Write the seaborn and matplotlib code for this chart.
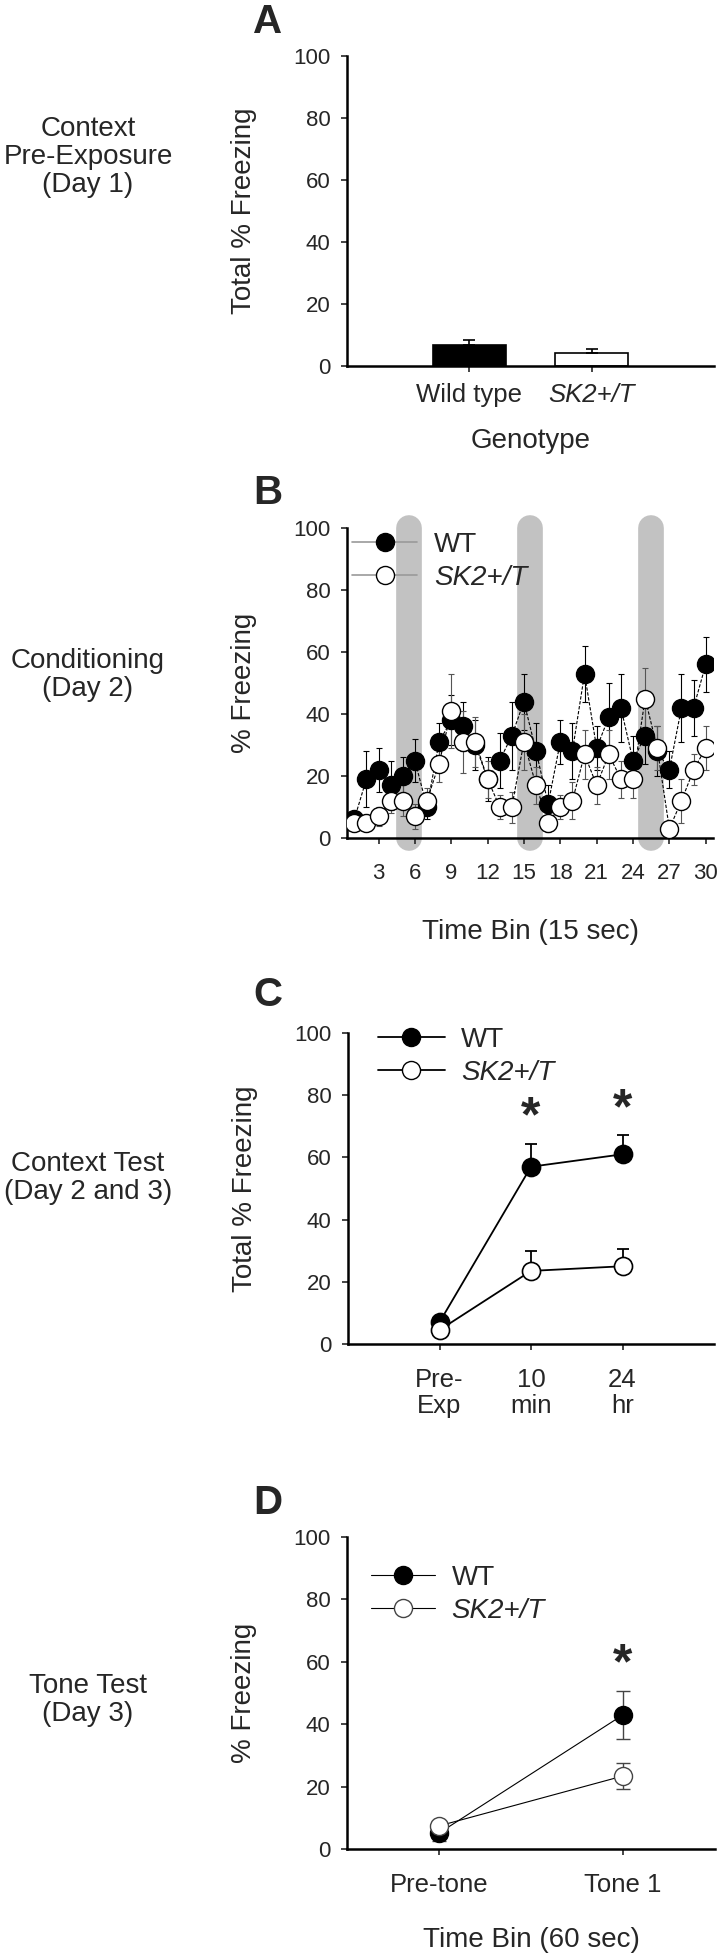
import numpy as np
import matplotlib
matplotlib.use("Agg")
import matplotlib.pyplot as plt
import seaborn as sns
from matplotlib.lines import Line2D

sns.set_theme(style="ticks")
plt.rcParams['font.family'] = ['Liberation Sans', 'DejaVu Sans']

# ---------------- data ----------------
# Panel A
genotypes = ['Wild type', 'SK2+/T']
a_values = [6.8, 4.2]
a_err = [1.6, 1.3]

# Panel B (30 time bins of 15 s)
b_bins = list(range(1, 31))
b_wt = [6, 19, 22, 17, 20, 25, 10, 31, 38, 36, 30, 19, 25, 33, 44,
        28, 11, 31, 28, 53, 29, 39, 42, 25, 33, 28, 22, 42, 42, 56]
b_wt_err = [2, 9, 7, 8, 6, 7, 4, 6, 8, 8, 8, 7, 9, 11, 9,
            9, 6, 7, 9, 9, 7, 11, 11, 8, 9, 8, 6, 11, 9, 9]
b_sk = [5, 5, 7, 12, 12, 7, 12, 24, 41, 31, 31, 19, 10, 10, 31,
        17, 5, 10, 12, 27, 17, 27, 19, 19, 45, 29, 3, 12, 22, 29]
b_sk_err = [2, 2, 3, 4, 5, 4, 4, 6, 12, 10, 8, 6, 4, 5, 9,
            6, 3, 4, 6, 8, 6, 8, 6, 6, 10, 7, 2, 7, 5, 7]
shock_bins = [5.5, 15.5, 25.5]
b_ticks = [3, 6, 9, 12, 15, 18, 21, 24, 27, 30]

# Panel C
c_labels = ['Pre-\nExp', '10\nmin', '24\nhr']
c_wt = [7, 57, 61]
c_wt_err = [1.5, 7.3, 6.1]
c_sk = [4.5, 23.5, 25]
c_sk_err = [1.2, 6.3, 5.7]
c_sig = [False, True, True]

# Panel D
d_labels = ['Pre-tone', 'Tone 1']
d_wt = [5.1, 43]
d_wt_err = [2.5, 7.6]
d_sk = [7.4, 23.4]
d_sk_err = [1.5, 4.2]
d_sig = [False, True]

y_ticks = [0, 20, 40, 60, 80, 100]

# ---------------- figure ----------------
W, H = 721, 1957
fig = plt.figure(figsize=(W / 100, H / 100), dpi=100)
fig.patch.set_facecolor('white')


def px_axes(left, right, top, bottom):
    return fig.add_axes([left / W, 1 - bottom / H, (right - left) / W, (bottom - top) / H])


axA = px_axes(347, 714, 56, 366)
axB = px_axes(347, 713, 528, 838)
axC = px_axes(348, 714, 1033, 1344)
axD = px_axes(347, 715, 1537, 1849)

NUM = 16
CAT = 18.5
LAB = 20
MS = 13


def style(ax, xpad):
    sns.despine(ax=ax)
    for s in ('left', 'bottom'):
        ax.spines[s].set_linewidth(1.8)
        ax.spines[s].set_color('black')
    ax.set_ylim(0, 100)
    ax.set_yticks(y_ticks)
    ax.tick_params(axis='y', direction='out', length=4, width=1.2, pad=8, labelsize=NUM)
    ax.tick_params(axis='x', direction='out', length=4, width=1.2, pad=xpad)
    ax.set_facecolor('white')
    ax.yaxis.set_label_coords(-0.245, 0.5)


# ---------- Panel A ----------
sns.barplot(x=genotypes, y=a_values, hue=genotypes, palette=['black', 'white'],
            edgecolor='black', linewidth=1.2, width=0.6, ax=axA, legend=False)
axA.errorbar(np.arange(len(genotypes)), a_values, yerr=[[0] * len(a_err), a_err],
             fmt='none', ecolor='black', elinewidth=1.2, capsize=4, capthick=1.2)
axA.set_xlim(-1, 2)
style(axA, 8)
axA.tick_params(axis='x', labelsize=CAT)
for lbl in axA.get_xticklabels():
    if lbl.get_text().startswith('SK2'):
        lbl.set_fontstyle('italic')
axA.set_xlabel('Genotype', fontsize=LAB)
axA.xaxis.set_label_coords(0.5, -0.2)
axA.set_ylabel('Total % Freezing', fontsize=LAB)

# ---------- Panel B ----------
for sb in shock_bins:
    axB.plot([sb, sb], [0, 100], lw=18.5, color='#c2c2c2', solid_capstyle='round',
             zorder=0, clip_on=False)
axB.errorbar(b_bins, b_wt, yerr=b_wt_err, fmt='none', ecolor='black',
             elinewidth=0.8, capsize=2.5, capthick=0.8, zorder=2)
axB.errorbar(b_bins, b_sk, yerr=b_sk_err, fmt='none', ecolor='#555555',
             elinewidth=0.8, capsize=2.5, capthick=0.8, zorder=2)
sns.lineplot(x=b_bins, y=b_wt, ax=axB, color='black', linewidth=0.8, linestyle=(0, (3, 1.5)),
             marker='o', markersize=MS, markerfacecolor='black', markeredgecolor='black',
             markeredgewidth=1, zorder=3)
sns.lineplot(x=b_bins, y=b_sk, ax=axB, color='black', linewidth=0.8, linestyle=(0, (3, 1.5)),
             marker='o', markersize=MS, markerfacecolor='white', markeredgecolor='black',
             markeredgewidth=1, zorder=4)
axB.set_xlim(0.4, 30.6)
axB.set_xticks(b_ticks)
style(axB, 14)
axB.tick_params(axis='x', labelsize=NUM)
axB.set_xlabel('Time Bin (15 sec)', fontsize=LAB)
axB.xaxis.set_label_coords(0.5, -0.261)
axB.set_ylabel('% Freezing', fontsize=LAB)
hB = [Line2D([], [], color='#9a9a9a', lw=1.2, marker='o', ms=MS, mfc='black', mec='black'),
      Line2D([], [], color='#9a9a9a', lw=1.2, marker='o', ms=MS, mfc='white', mec='black')]
legB = axB.legend(hB, ['WT', 'SK2+/T'], loc='upper left', bbox_to_anchor=(0.014, 0.987),
                  frameon=False, borderpad=0, borderaxespad=0, handlelength=2.35,
                  handletextpad=0.6, labelspacing=0.25, fontsize=LAB)
legB.get_texts()[1].set_fontstyle('italic')

# ---------- Panel C ----------
c_x = np.arange(len(c_labels))
axC.errorbar(c_x, c_wt, yerr=[[0] * len(c_x), c_wt_err], fmt='none', ecolor='black',
             elinewidth=1.3, capsize=4, capthick=1.3, zorder=2)
axC.errorbar(c_x, c_sk, yerr=[[0] * len(c_x), c_sk_err], fmt='none', ecolor='black',
             elinewidth=1.3, capsize=4, capthick=1.3, zorder=2)
sns.lineplot(x=c_x, y=c_wt, ax=axC, color='black', linewidth=1.3, marker='o', markersize=MS,
             markerfacecolor='black', markeredgecolor='black', markeredgewidth=1.2, zorder=3)
sns.lineplot(x=c_x, y=c_sk, ax=axC, color='black', linewidth=1.3, marker='o', markersize=MS,
             markerfacecolor='white', markeredgecolor='black', markeredgewidth=1.2, zorder=3)
for xi, v, e, s in zip(c_x, c_wt, c_wt_err, c_sig):
    if s:
        axC.text(xi, v + e + 4, '*', ha='center', va='baseline', fontsize=36, fontweight='bold')
axC.set_xlim(-1, 3)
axC.set_xticks(c_x)
axC.set_xticklabels(c_labels, fontsize=CAT, linespacing=1.1)
style(axC, 13)
axC.set_ylabel('Total % Freezing', fontsize=LAB)
hC = [Line2D([], [], color='black', lw=1.3, marker='o', ms=MS, mfc='black', mec='black'),
      Line2D([], [], color='black', lw=1.3, marker='o', ms=MS, mfc='white', mec='black')]
legC = axC.legend(hC, ['WT', 'SK2+/T'], loc='upper left', bbox_to_anchor=(0.082, 1.019),
                  frameon=False, borderpad=0, borderaxespad=0, handlelength=2.4,
                  handletextpad=0.6, labelspacing=0.25, fontsize=LAB)
legC.get_texts()[1].set_fontstyle('italic')

# ---------- Panel D ----------
d_x = np.arange(len(d_labels))
axD.errorbar(d_x, d_wt, yerr=d_wt_err, fmt='none', ecolor='#444444',
             elinewidth=1.0, capsize=5, capthick=1.0, zorder=2)
axD.errorbar(d_x, d_sk, yerr=d_sk_err, fmt='none', ecolor='#444444',
             elinewidth=1.0, capsize=5, capthick=1.0, zorder=2)
sns.lineplot(x=d_x, y=d_wt, ax=axD, color='black', linewidth=0.8, marker='o', markersize=MS,
             markerfacecolor='black', markeredgecolor='black', markeredgewidth=1, zorder=3)
sns.lineplot(x=d_x, y=d_sk, ax=axD, color='black', linewidth=0.8, marker='o', markersize=MS,
             markerfacecolor='white', markeredgecolor='#444444', markeredgewidth=1, zorder=4)
for xi, v, e, s in zip(d_x, d_wt, d_wt_err, d_sig):
    if s:
        axD.text(xi, v + e + 4, '*', ha='center', va='baseline', fontsize=36, fontweight='bold')
axD.set_xlim(-0.5, 1.5)
axD.set_xticks(d_x)
axD.set_xticklabels(d_labels, fontsize=CAT)
style(axD, 13)
axD.set_ylabel('% Freezing', fontsize=LAB)
axD.set_xlabel('Time Bin (60 sec)', fontsize=LAB)
axD.xaxis.set_label_coords(0.5, -0.25)
hD = [Line2D([], [], color='black', lw=0.8, marker='o', ms=MS, mfc='black', mec='black'),
      Line2D([], [], color='black', lw=0.8, marker='o', ms=MS, mfc='white', mec='#444444')]
legD = axD.legend(hD, ['WT', 'SK2+/T'], loc='upper left', bbox_to_anchor=(0.065, 0.91),
                  frameon=False, borderpad=0, borderaxespad=0, handlelength=2.3,
                  handletextpad=0.6, labelspacing=0.25, fontsize=LAB)
legD.get_texts()[1].set_fontstyle('italic')

# ---------- panel letters and left-side descriptions ----------
for letter, ypx in [('A', 22), ('B', 493), ('C', 995), ('D', 1503)]:
    fig.text(268 / W, 1 - ypx / H, letter, ha='center', va='center',
             fontsize=29, fontweight='bold')

side_texts = [('Context\nPre-Exposure\n(Day 1)', 157),
              ('Conditioning\n(Day 2)', 675),
              ('Context Test\n(Day 2 and 3)', 1178),
              ('Tone Test\n(Day 3)', 1700)]
for txt, ypx in side_texts:
    fig.text(88 / W, 1 - ypx / H, txt, ha='center', va='center', fontsize=20, linespacing=1.1)

fig.savefig('out.png', dpi=100, facecolor='white')
